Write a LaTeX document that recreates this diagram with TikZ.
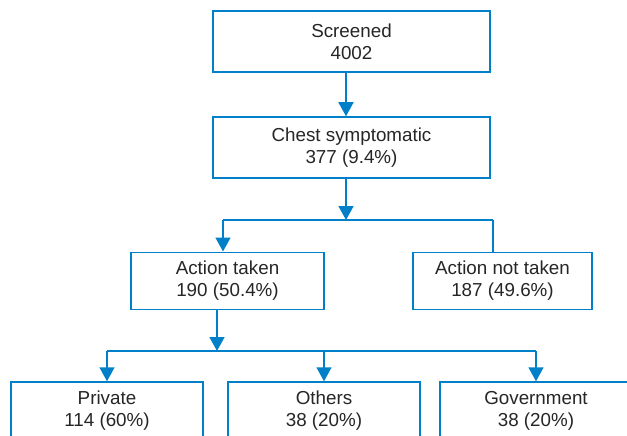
\documentclass[tikz,border=0pt]{standalone}
\usepackage{fontspec}
\setmainfont{Liberation Sans}
\usetikzlibrary{arrows.meta}
\definecolor{flowblue}{RGB}{0,128,200}
\begin{document}
\begin{tikzpicture}[x=1pt,y=-1pt,
  box/.style={draw=flowblue,line width=1.5pt,rectangle,inner sep=0pt,align=center,
    font=\fontsize{18.8}{22}\selectfont,text=black!85},
  conn/.style={draw=flowblue,line width=1.5pt},
  arr/.style={conn,-{Triangle[length=14pt,width=15pt]}}]
\path[use as bounding box,clip] (0,0) rectangle (627,436);
\fill[white] (0,0) rectangle (627,436);
\node[box,minimum width=277pt,minimum height=61pt] (Screened) at (351.5,41.5) {Screened\\4002};
\node[box,minimum width=277pt,minimum height=61pt] (Chest) at (351.5,147.5) {Chest symptomatic\\377 (9.4\%)};
\node[box,minimum width=193pt,minimum height=57pt] (ActT) at (227.5,280.75) {Action taken\\190 (50.4\%)};
\node[box,minimum width=179pt,minimum height=57pt] (ActN) at (502.5,280.75) {Action not taken\\187 (49.6\%)};
\node[box,minimum width=192pt,minimum height=58pt] (Private) at (107,411) {Private\\114 (60\%)};
\node[box,minimum width=192pt,minimum height=58pt] (Others) at (324,411) {Others\\38 (20\%)};
\node[box,minimum width=192pt,minimum height=58pt] (Gov) at (536,411) {Government\\38 (20\%)};
\coordinate (j1) at (346,220);
\coordinate (l1) at (223,220);
\coordinate (r1) at (493,220);
\coordinate (j2) at (217,351);
\draw[arr] (Screened.south -| j1) -- (Chest.north -| j1);
\draw[arr] (Chest.south -| j1) -- (j1);
\draw[conn] (l1) -- (r1);
\draw[arr] (l1) -- (l1 |- ActT.north);
\draw[conn] (r1) -- (r1 |- ActN.north);
\draw[arr] (ActT.south -| j2) -- (j2);
\draw[conn] (Private.north |- j2) -- (Gov.north |- j2);
\draw[arr] (Private.north |- j2) -- (Private.north);
\draw[arr] (Others.north |- j2) -- (Others.north);
\draw[arr] (Gov.north |- j2) -- (Gov.north);
\end{tikzpicture}
\end{document}
